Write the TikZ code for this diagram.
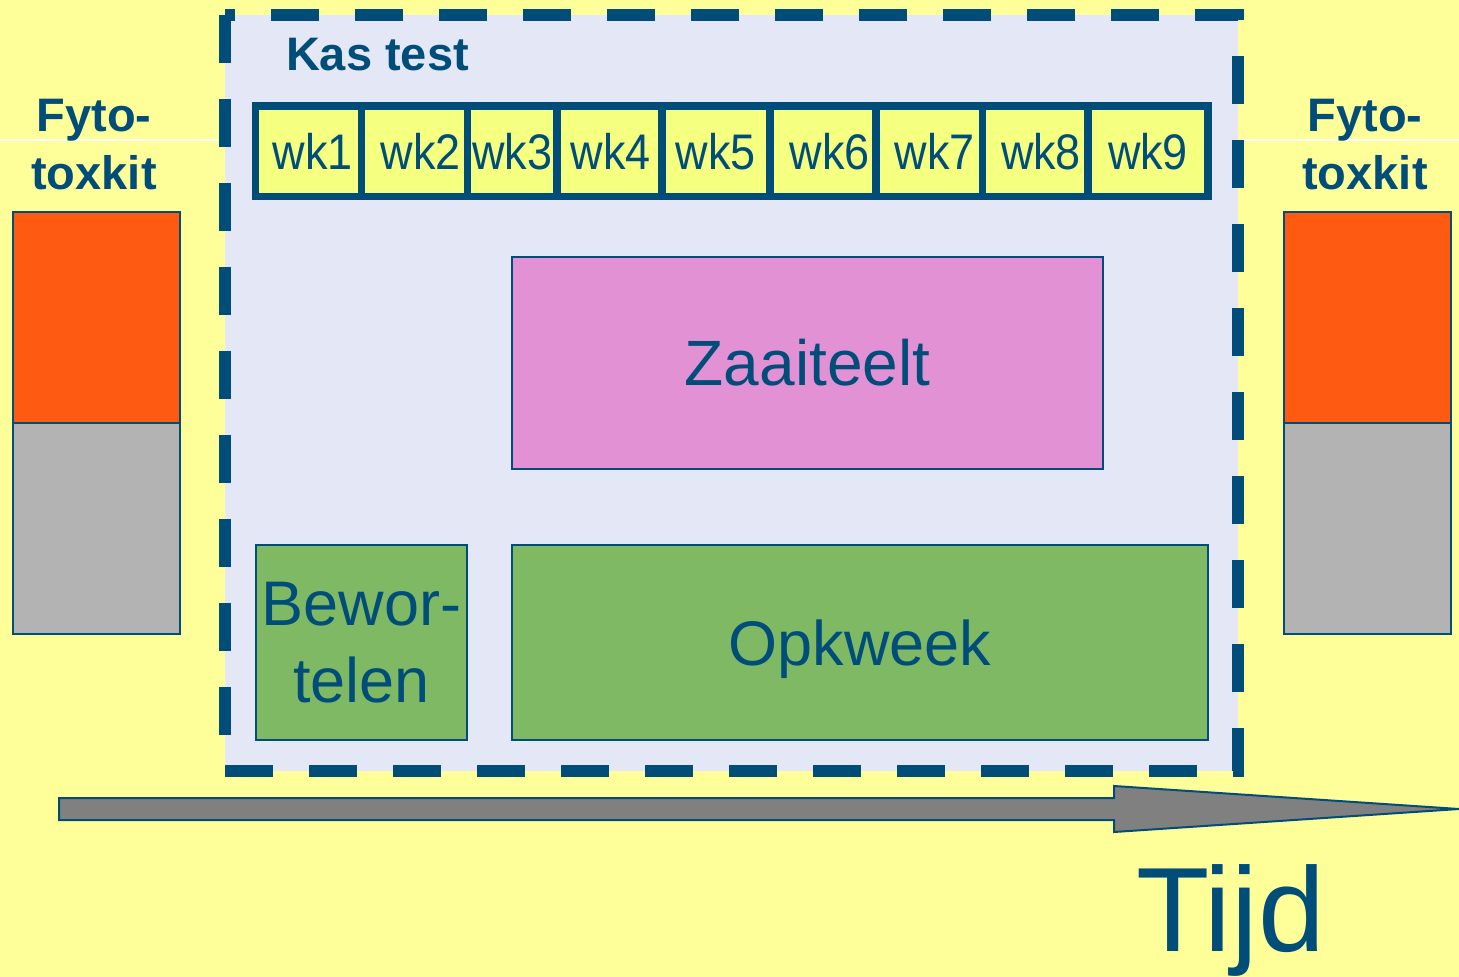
\documentclass[tikz,border=0pt]{standalone}
\usepackage{fontspec}
\setmainfont{Liberation Sans}
\newfontfamily\wkfont[FakeStretch=0.9]{Liberation Sans}
\definecolor{dblue}{HTML}{004D7A}
\definecolor{bgyellow}{HTML}{FFFF99}
\definecolor{lav}{HTML}{E4E8F6}
\definecolor{wkfill}{HTML}{F5FF80}
\definecolor{zpink}{HTML}{E191D4}
\definecolor{zgreen}{HTML}{80B964}
\definecolor{zorange}{HTML}{FF5A12}
\definecolor{zgray}{HTML}{B3B3B3}
\definecolor{agray}{HTML}{808080}
\begin{document}
\begin{tikzpicture}[x=1pt,y=-1pt,
  every node/.style={inner sep=0pt, outer sep=0pt, text=dblue},
  blk/.style={draw=dblue, line width=2pt},
  wkcell/.style={draw=dblue, fill=wkfill, line width=7.5pt, minimum height=90.5, font=\wkfont\fontsize{50}{60}\selectfont},
  bigtxt/.style={font=\fontsize{63}{77}\selectfont},
  fyto/.style={font=\bfseries\fontsize{47}{58}\selectfont, align=center, anchor=north},
  sidebox/.style={blk, minimum width=167, minimum height=211}
  ]
\useasboundingbox (0,0) rectangle (1459,977);
\fill[bgyellow] (0,0) rectangle (1459,977);
% thin white rules
\draw[white, line width=2pt] (0,140) -- (218,140);
\draw[white, line width=2pt] (1240,140) -- (1459,140);
% greenhouse area
\fill[lav] (225,15) rectangle (1238,771);
\draw[dblue, line width=12pt, dash pattern=on 48pt off 36pt] (225,15) -- (225,771) -- (1238,771) -- (1238,15) -- cycle;
\node[font=\bfseries\fontsize{47}{56}\selectfont, anchor=base west] (kas) at (286,70) {Kas test};
% weeks
\node[wkcell, minimum width=106] (wk1) at (308.5,151.25) {\hspace*{9pt}wk1};
\node[wkcell, minimum width=106] (wk2) at (414.5,151.25) {\hspace*{13pt}wk2};
\node[wkcell, minimum width=89.5] (wk3) at (512.25,151.25) {wk3};
\node[wkcell, minimum width=105] (wk4) at (609.5,151.25) {\hspace*{3pt}wk4};
\node[wkcell, minimum width=108] (wk5) at (716,151.25) {wk5};
\node[wkcell, minimum width=106] (wk6) at (823,151.25) {\hspace*{14pt}wk6};
\node[wkcell, minimum width=106.5] (wk7) at (929.25,151.25) {\hspace*{11.5pt}wk7};
\node[wkcell, minimum width=105.5] (wk8) at (1035.25,151.25) {\hspace*{11.5pt}wk8};
\node[wkcell, minimum width=120] (wk9) at (1148,151.25) {wk9};
% phases
\node[blk, fill=zpink, minimum width=591, minimum height=212, font=\fontsize{64}{77}\selectfont] (zaai) at (807.5,363) {Zaaiteelt};
\node[blk, fill=zgreen, minimum width=211, minimum height=195, bigtxt, align=center] (bew) at (361.5,642.5) {Bewor-\\telen};
\node[blk, fill=zgreen, minimum width=696, minimum height=195, bigtxt, text depth=0pt] (opk) at (860,642.5) {Opkweek};
% side tests
\node[fyto] (fytoL) at (94,99) {Fyto-\\toxkit};
\node[sidebox, fill=zorange] (lor) at (96.5,317.5) {};
\node[sidebox, fill=zgray] (lgr) at (96.5,528.5) {};
\node[fyto] (fytoR) at (1365,99) {Fyto-\\toxkit};
\node[sidebox, fill=zorange] (ror) at (1367,317.5) {};
\node[sidebox, fill=zgray] (rgr) at (1367,528.5) {};
% time arrow
\draw[dblue, line width=2pt, fill=agray, line join=miter]
  (59,798) -- (1114,798) -- (1114,786) -- (1459,809) -- (1114,832) -- (1114,820) -- (59,820) -- cycle;
\node[font=\fontsize{120}{134}\selectfont, anchor=base west] (tijd) at (1136,951) {Tijd};
\end{tikzpicture}
\end{document}
